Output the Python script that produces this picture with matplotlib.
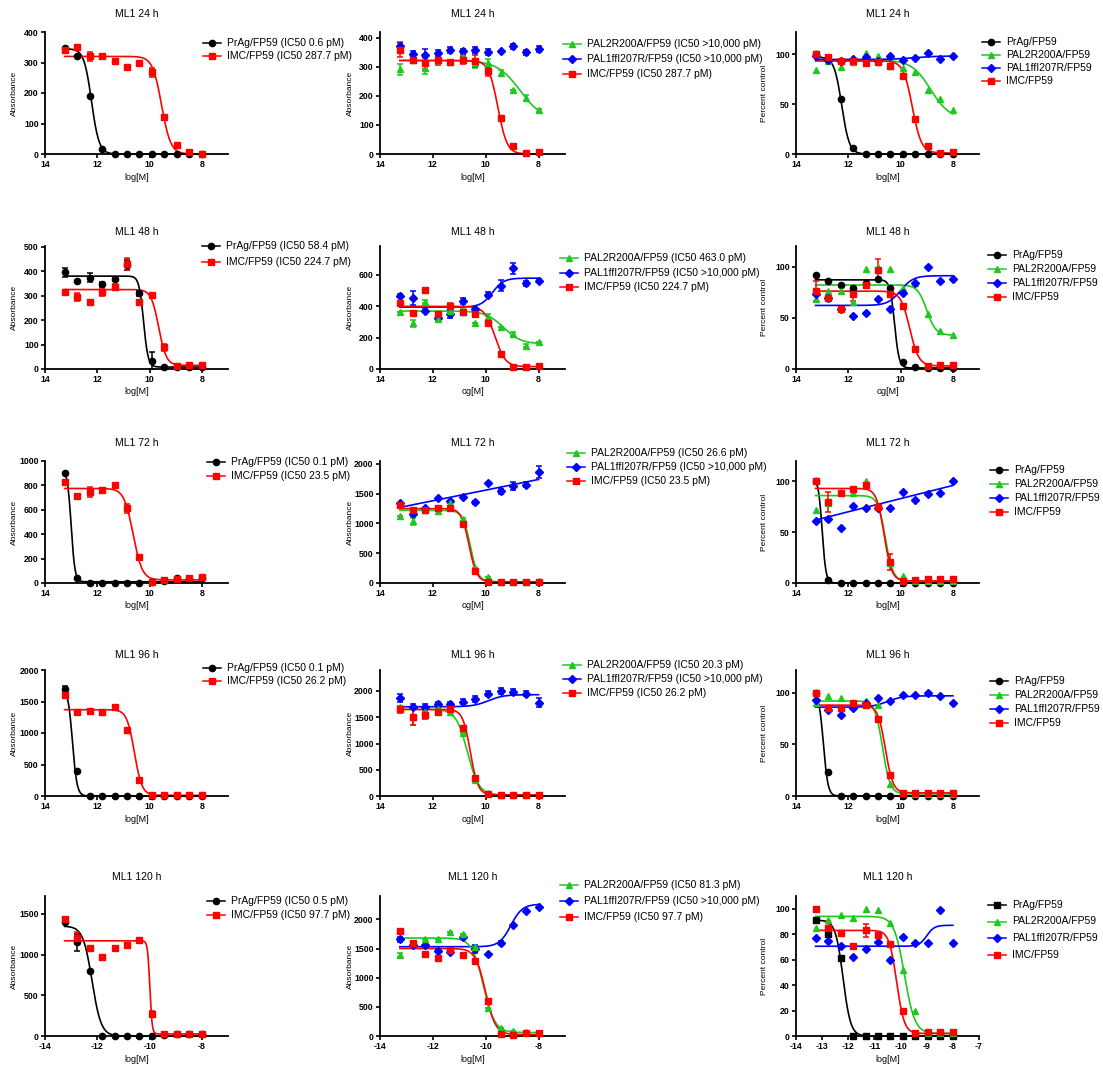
import numpy as np
import matplotlib.pyplot as plt
from matplotlib.lines import Line2D

plt.rcParams['font.family'] = ['Liberation Sans', 'DejaVu Sans']
plt.rcParams['axes.unicode_minus'] = False

W, H = 1103, 1070

# log10 of concentration (M), 3-fold dilutions
log_conc = [-13.25, -12.77, -12.29, -11.82, -11.34, -10.86, -10.39, -9.91, -9.43, -8.95, -8.48, -8.0]
Z = [0] * 12

# ---- 24 h ----
a24_prag = [348, 320, 190, 18, 0, 0, 0, 0, 0, 0, 0, 0]
a24_imc = [342, 350, 320, 320, 305, 285, 298, 268, 120, 30, 5, 0]
a24_imc_err = [10, 0, 15, 0, 0, 0, 0, 15, 0, 0, 0, 0]
b24_pal2 = [291, 324, 295, 324, 318, 333, 312, 312, 280, 221, 192, 151]
b24_pal2_err = [20, 0, 20, 0, 0, 0, 15, 15, 10, 0, 10, 5]
b24_pal1 = [371, 345, 341, 347, 357, 353, 359, 350, 353, 371, 350, 361]
b24_pal1_err = [10, 8, 20, 10, 10, 10, 10, 10, 0, 8, 8, 10]
b24_imc = [359, 324, 312, 322, 318, 324, 320, 285, 125, 26, 2, 6]
b24_imc_err = [25, 0, 20, 15, 0, 15, 20, 15, 0, 0, 0, 0]
p24_prag = [100, 94, 55, 6, 0, 0, 0, 0, 0, 0, 0, 0]
p24_pal2 = [84, 93, 87, 92, 101, 98, 88, 86, 82, 64, 55, 44]
p24_pal1 = [98, 94, 93, 95, 97, 93, 98, 94, 96, 101, 95, 98]
p24_imc = [100, 97, 93, 93, 91, 92, 88, 78, 35, 8, 1, 2]

# ---- 48 h ----
a48_prag = [395, 361, 374, 347, 367, 425, 309, 34, 7, 10, 10, 10]
a48_prag_err = [20, 0, 20, 10, 8, 20, 10, 35, 0, 0, 0, 0]
a48_imc = [313, 295, 272, 313, 336, 428, 272, 302, 88, 14, 16, 16]
a48_imc_err = [0, 15, 0, 15, 12, 25, 0, 0, 15, 0, 0, 0]
b48_pal2 = [366, 291, 430, 319, 372, 366, 294, 330, 266, 223, 149, 170]
b48_pal2_err = [0, 20, 10, 10, 15, 20, 0, 20, 0, 10, 10, 0]
b48_pal1 = [468, 453, 372, 323, 351, 432, 383, 474, 532, 643, 547, 564]
b48_pal1_err = [10, 45, 10, 10, 25, 20, 0, 15, 35, 35, 15, 8]
b48_imc = [419, 357, 504, 351, 400, 362, 351, 291, 96, 15, 15, 21]
b48_imc_err = [0, 15, 0, 10, 20, 0, 0, 0, 0, 0, 0, 0]
p48_prag = [92, 86, 82, 79, 84, 88, 79, 7, 2, 1, 1, 1]
p48_pal2 = [68, 76, 76, 65, 98, 100, 98, 79, 84, 54, 37, 33]
p48_pal1 = [73, 69, 59, 52, 55, 68, 59, 74, 84, 100, 86, 88]
p48_imc = [76, 69, 59, 73, 82, 97, 73, 61, 20, 3, 4, 4]
p48_imc_err = [10, 0, 0, 7, 0, 10, 0, 0, 0, 0, 0, 0]

# ---- 72 h ----
a72_prag = [905, 40, 0, 0, 0, 0, 0, 5, 20, 40, 30, 40]
a72_imc = [829, 715, 747, 761, 802, 611, 217, 5, 27, 32, 41, 46]
a72_imc_err = [15, 0, 40, 0, 20, 35, 0, 0, 0, 0, 0, 0]
b72_pal2 = [1125, 1035, 1225, 1207, 1339, 1070, 247, 103, 17, 17, 17, 29]
b72_pal2_err = [0, 60, 0, 0, 0, 30, 0, 0, 0, 0, 0, 0]
b72_pal1 = [1350, 1167, 1253, 1425, 1385, 1437, 1356, 1684, 1540, 1626, 1655, 1868]
b72_pal1_err = [0, 40, 0, 0, 0, 0, 25, 0, 45, 70, 45, 100]
b72_imc = [1310, 1224, 1224, 1264, 1253, 994, 207, 17, 17, 17, 17, 17]
b72_imc_err = [40, 0, 0, 0, 0, 30, 0, 0, 0, 0, 0, 0]
p72_prag = [100, 3, 0, 0, 0, 0, 0, 0, 0, 0, 0, 0]
p72_pal2 = [72, 79, 90, 89, 100, 75, 20, 7, 2, 2, 2, 2]
p72_pal1 = [61, 63, 54, 76, 74, 74, 74, 90, 82, 88, 89, 100]
p72_imc = [100, 80, 89, 92, 96, 75, 21, 2, 3, 4, 4, 4]
p72_imc_err = [0, 10, 0, 0, 0, 0, 8, 0, 0, 0, 0, 0]

# ---- 96 h ----
a96_prag = [1700, 400, 0, 0, 0, 0, 0, 0, 0, 0, 0, 0]
a96_prag_err = [40, 0, 0, 0, 0, 0, 0, 0, 0, 0, 0, 0]
a96_imc = [1600, 1330, 1350, 1330, 1420, 1050, 250, 10, 10, 10, 10, 10]
b96_pal2 = [1700, 1500, 1600, 1650, 1600, 1200, 300, 50, 20, 20, 20, 20]
b96_pal2_err = [0, 150, 0, 0, 0, 0, 0, 0, 0, 0, 0, 0]
b96_pal1 = [1870, 1700, 1700, 1750, 1750, 1800, 1850, 1950, 2000, 1980, 1950, 1780]
b96_pal1_err = [80, 50, 50, 50, 50, 50, 50, 50, 50, 50, 50, 80]
b96_imc = [1650, 1500, 1550, 1600, 1650, 1300, 350, 30, 20, 20, 20, 20]
b96_imc_err = [60, 150, 80, 0, 0, 0, 0, 0, 0, 0, 0, 0]
p96_prag = [100, 23, 0, 0, 0, 0, 0, 0, 0, 0, 0, 0]
p96_pal2 = [90, 97, 95, 90, 92, 88, 12, 3, 2, 2, 2, 2]
p96_pal1 = [93, 83, 78, 85, 90, 95, 92, 98, 98, 100, 97, 90]
p96_imc = [100, 85, 85, 90, 88, 75, 20, 3, 3, 3, 3, 3]

# ---- 120 h ----
a120_prag = [1400, 1150, 804, 0, 0, 0, 0, 5, 10, 29, 20, 20]
a120_prag_err = [0, 100, 0, 0, 0, 0, 0, 0, 0, 0, 0, 0]
a120_imc = [1437, 1204, 1082, 967, 1082, 1114, 1184, 273, 20, 20, 29, 29]
a120_imc_err = [30, 70, 25, 0, 20, 20, 0, 40, 0, 0, 0, 0]
b120_pal2 = [1391, 1598, 1655, 1655, 1780, 1752, 1523, 488, 144, 86, 69, 57]
b120_pal2_err = [30, 0, 0, 0, 0, 0, 0, 0, 0, 0, 0, 0]
b120_pal1 = [1655, 1563, 1563, 1465, 1437, 1695, 1494, 1408, 1598, 1897, 2144, 2213]
b120_pal1_err = [40, 0, 0, 25, 0, 0, 70, 0, 30, 0, 0, 0]
b120_imc = [1793, 1598, 1408, 1333, 1466, 1391, 1293, 603, 30, 17, 46, 46]
b120_imc_err = [0, 0, 25, 20, 20, 20, 0, 0, 0, 0, 0, 0]
p120_prag = [91, 80, 61, 0, 0, 0, 0, 0, 0, 0, 0, 0]
p120_pal2 = [85, 91, 95, 93, 100, 99, 89, 52, 20, 2, 2, 2]
p120_pal1 = [77, 75, 71, 62, 68, 74, 60, 78, 73, 73, 99, 73]
p120_imc = [100, 85, 81, 71, 83, 79, 72, 20, 2, 3, 3, 3]
p120_imc_err = [0, 5, 0, 0, 5, 0, 0, 0, 0, 0, 0, 0]

# curve fits: (top, bottom, logIC50, hill) or (intercept, slope) for straight lines
FIT = {
    'a24_prag': (345, 0, -12.22, 3), 'a24_imc': (320, 0, -9.54, 2.5),
    'b24_pal2': (322, 115, -8.7, 1.0), 'b24_pal1': None, 'b24_imc': (322, 0, -9.54, 2.5),
    'p24_prag': (97, 0, -12.25, 3), 'p24_pal2': (94, 35, -8.85, 1.2),
    'p24_pal1': (94.5, 98, -9.5, 1), 'p24_imc': (93, 1, -9.55, 2.5),
    'a48_prag': (380, 8, -10.23, 5), 'a48_imc': (325, 15, -9.65, 3),
    'b48_pal2': (370, 160, -9.33, 1.3), 'b48_pal1': (395, 580, -9.75, 2), 'b48_imc': (400, 15, -9.65, 2.2),
    'p48_prag': (87, 1, -10.23, 5), 'p48_pal2': (82, 33, -9.0, 2.5),
    'p48_pal1': (62, 91, -10.0, 1.8), 'p48_imc': (76, 3, -9.65, 2.5),
    'a72_prag': (930, 10, -13.0, 6), 'a72_imc': (775, 25, -10.63, 2.5),
    'b72_pal2': (1220, 20, -10.58, 3), 'b72_pal1': (2456, 89.5), 'b72_imc': (1250, 20, -10.63, 3),
    'p72_prag': (103, 0, -13.0, 6), 'p72_pal2': (86, 2, -10.58, 3),
    'p72_pal1': (147.8, 6.48), 'p72_imc': (93, 2, -10.63, 3),
    'a96_prag': (1720, 0, -12.95, 5), 'a96_imc': (1370, 10, -10.58, 3),
    'b96_pal2': (1650, 20, -10.69, 2), 'b96_pal1': (1700, 1930, -9.9, 1.5), 'b96_imc': (1650, 20, -10.58, 3),
    'p96_prag': (100, 0, -12.95, 5), 'p96_pal2': (92, 2, -10.69, 3),
    'p96_pal1': (86, 97, -10.5, 1.5), 'p96_imc': (88, 3, -10.58, 3),
    'a120_prag': (1350, 0, -12.2, 2.5), 'a120_imc': (1170, 25, -9.99, 10),
    'b120_pal2': (1680, 60, -10.09, 2), 'b120_pal1': (1530, 2260, -9.05, 2), 'b120_imc': (1500, 25, -10.01, 2.3),
    'p120_prag': (91, 0, -12.2, 3), 'p120_pal2': (94, 2, -9.85, 2.2),
    'p120_pal1': (70.5, 87, -9.0, 3), 'p120_imc': (83, 2, -10.15, 3),
}

GREEN = '#1ec81e'
STYLE = {'prag': ('black', 'o', 4.5), 'pal2': (GREEN, '^', 5),
         'pal1': ('#0000ff', 'D', 4), 'imc': ('#ff0000', 's', 5)}
NAME = {'prag': 'PrAg/FP59', 'pal2': 'PAL2R200A/FP59',
        'pal1': 'PAL1ffI207R/FP59', 'imc': 'IMC/FP59'}

times = ['24', '48', '72', '96', '120']
ic50 = {
    '24': {'prag': '0.6', 'imc': '287.7', 'pal2': '>10,000', 'pal1': '>10,000'},
    '48': {'prag': '58.4', 'imc': '224.7', 'pal2': '463.0', 'pal1': '>10,000'},
    '72': {'prag': '0.1', 'imc': '23.5', 'pal2': '26.6', 'pal1': '>10,000'},
    '96': {'prag': '0.1', 'imc': '26.2', 'pal2': '20.3', 'pal1': '>10,000'},
    '120': {'prag': '0.5', 'imc': '97.7', 'pal2': '81.3', 'pal1': '>10,000'},
}

# layout in pixels
row_y = [(32, 154), (246, 369), (461, 583), (670, 796), (896, 1036)]
title_y = [14, 232, 443, 655, 877]
col_x = [(45, 228), (380, 565), (796, 979)]
ylab_x = [14, 350, 765]
ylims = [[(0, 400, 100), (0, 420, 100), (0, 122, 50)],
         [(0, 503, 100), (0, 785, 200), (0, 120, 50)],
         [(0, 1000, 200), (0, 2050, 500), (0, 120, 50)],
         [(0, 2000, 500), (0, 2400, 500), (0, 122, 50)],
         [(0, 1720, 500), (0, 2400, 500), (0, 110, 20)]]
xlabels = [['log[M]', 'log[M]', 'log[M]'], ['log[M]', 'og[M]', 'og[M]'],
           ['log[M]', 'og[M]', 'log[M]'], ['log[M]', 'og[M]', 'log[M]'],
           ['log[M]', 'log[M]', 'log[M]']]
# legend: handle start x, first row y, row pitch
leg_pos = [[(203, 43, 13), (563, 44, 15), (982, 42, 13)],
           [(202, 246, 16), (560, 258, 14.5), (988, 255, 14)],
           [(207, 462, 14), (567, 453, 14), (990, 470, 14)],
           [(203, 668, 13), (563, 665, 14), (990, 681, 14)],
           [(207, 901, 14), (560, 885, 16), (988, 905, 16.5)]]
col_series = [['prag', 'imc'], ['pal2', 'pal1', 'imc'], ['prag', 'pal2', 'pal1', 'imc']]
draw_order = [['prag', 'imc'], ['pal1', 'pal2', 'imc'], ['prag', 'pal2', 'pal1', 'imc']]

fig = plt.figure(figsize=(W / 100, H / 100), dpi=100)
data = globals()
xx = np.linspace(log_conc[0], log_conc[-1], 300)


def fit_curve(p, x):
    if len(p) == 2:
        return p[0] + p[1] * x
    top, bot, mid, h = p
    return bot + (top - bot) / (1 + 10 ** ((x - mid) * h))


def style(r, c, key):
    if r == 4 and c == 2 and key == 'prag':
        return 'black', 's', 4.5
    return STYLE[key]


for r, t in enumerate(times):
    sgn = 1 if r == 4 else -1
    for c in range(3):
        x0, x1 = col_x[c]
        y0, y1 = row_y[r]
        ax = fig.add_axes([x0 / W, 1 - y1 / H, (x1 - x0) / W, (y1 - y0) / H])
        prefix = 'abp'[c] + t
        for key in draw_order[c]:
            name = prefix + '_' + key
            col, mk, ms = style(r, c, key)
            y = np.array(data[name], float)
            err = np.array(data.get(name + '_err', Z), float)
            x = sgn * np.array(log_conc)
            p = FIT[name]
            if p is not None:
                ax.plot(sgn * xx, fit_curve(p, xx), color=col, lw=1.2, clip_on=False, zorder=2)
            if err.any():
                ax.errorbar(x, y, yerr=err, fmt='none', ecolor=col, elinewidth=1.1,
                            capsize=2.5, capthick=1.1, clip_on=False, zorder=3)
            ax.plot(x, y, ls='none', marker=mk, ms=ms, color=col, mec=col,
                    clip_on=False, zorder=4)
        ylo, yhi, ystep = ylims[r][c]
        ax.set_ylim(ylo, yhi)
        ax.set_yticks(np.arange(0, yhi + 0.01, ystep))
        if r == 4:
            ax.set_xlim(-14, -7)
            ax.set_xticks([-14, -13, -12, -11, -10, -9, -8, -7] if c == 2 else [-14, -12, -10, -8])
        else:
            ax.set_xlim(14, 7)
            ax.set_xticks([14, 12, 10, 8])
        for s in ['top', 'right']:
            ax.spines[s].set_visible(False)
        for s in ['left', 'bottom']:
            ax.spines[s].set_linewidth(1.3)
        ax.tick_params(direction='out', length=3, width=1.2, pad=1.5, labelsize=6.3)
        for lab in ax.get_xticklabels() + ax.get_yticklabels():
            lab.set_fontweight('bold')
        ax.patch.set_alpha(0)

        cx = (x0 + x1) / 2
        fig.text(cx / W, 1 - title_y[r] / H, 'ML1 %s h' % t, ha='center', va='center', fontsize=7.5)
        fig.text(cx / W, 1 - (y1 + 23) / H, xlabels[r][c], ha='center', va='center', fontsize=6.5)
        fig.text(ylab_x[c] / W, 1 - (y0 + y1) / 2 / H, 'Percent control' if c == 2 else 'Absorbance',
                 rotation=90, ha='center', va='center', fontsize=6)

        lx, ly, dy = leg_pos[r][c]
        for i, key in enumerate(col_series[c]):
            col, mk, ms = style(r, c, key)
            yy = 1 - (ly + i * dy) / H
            fig.add_artist(Line2D([lx / W, (lx + 18) / W], [yy, yy], color=col, lw=1.1))
            fig.add_artist(Line2D([(lx + 9) / W], [yy], color=col, marker=mk, ms=ms, ls='none'))
            label = NAME[key]
            if c < 2:
                label += ' (IC50 %s pM)' % ic50[t][key]
            fig.text((lx + 24) / W, yy, label, ha='left', va='center', fontsize=7.5)

fig.savefig('out.png', dpi=100)
